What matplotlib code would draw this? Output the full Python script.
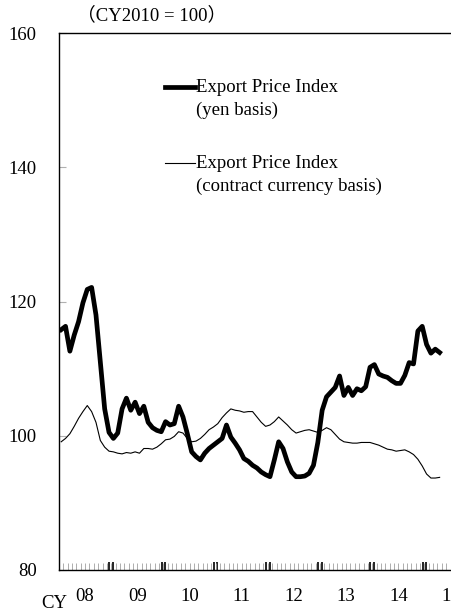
"""
Export price index: yen basis vs contract currency basis, monthly, CY2010=100.
"""

import matplotlib
matplotlib.use("Agg")
import matplotlib.pyplot as plt

plt.rcParams["font.family"] = ["Liberation Serif", "Noto Sans CJK JP"]

years = ["08", "09", "10", "11", "12", "13", "14", "15"]

# monthly values from Jan 2008
yen_basis = [
    115.8, 116.3, 112.6, 115.0, 117.0, 119.8, 121.8, 122.1, 118.0, 111.0, 104.0, 100.5,
    99.6, 100.4, 104.0, 105.6, 103.8, 105.0, 103.3, 104.4, 102.0, 101.2, 100.8, 100.6,
    102.1, 101.6, 101.8, 104.4, 102.8, 100.3, 97.6, 96.9, 96.4, 97.4, 98.1, 98.6,
    99.1, 99.6, 101.6, 99.8, 98.9, 97.9, 96.6, 96.2, 95.6, 95.2, 94.6, 94.2,
    93.9, 96.4, 99.1, 98.1, 96.1, 94.6, 93.9, 93.9, 94.0, 94.4, 95.6, 99.0,
    103.8, 105.8, 106.5, 107.2, 108.9, 106.0, 107.2, 106.0, 107.0, 106.7, 107.3, 110.2,
    110.6, 109.2, 108.9, 108.7, 108.2, 107.8, 107.8, 109.0, 110.9, 110.7, 115.6, 116.3,
    113.6, 112.3, 112.9, 112.4,
]

contract_basis = [
    99.1, 99.6, 100.3, 101.4, 102.6, 103.6, 104.5, 103.6, 102.0, 99.3, 98.3, 97.7,
    97.6, 97.4, 97.3, 97.5, 97.4, 97.6, 97.4, 98.1, 98.1, 98.0, 98.3, 98.8,
    99.4, 99.5, 99.9, 100.6, 100.4, 99.6, 99.1, 99.2, 99.6, 100.2, 100.9, 101.3,
    101.8, 102.7, 103.4, 104.0, 103.8, 103.7, 103.5, 103.6, 103.6, 102.8, 102.0, 101.4,
    101.6, 102.1, 102.8, 102.2, 101.6, 100.9, 100.4, 100.6, 100.8, 100.9, 100.7, 100.5,
    100.8, 101.2, 100.9, 100.2, 99.5, 99.1, 99.0, 98.9, 98.9, 99.0, 99.0, 99.0,
    98.8, 98.6, 98.3, 98.0, 97.9, 97.7, 97.8, 97.9, 97.6, 97.2, 96.5, 95.5,
    94.3, 93.7, 93.7, 93.8,
]

figure = plt.figure(figsize=(4.51, 6.15), dpi=100)
# axes run past the right edge of the figure, as in the original
ax = figure.add_axes([59 / 451, 45 / 615, 417.6 / 451, 537 / 615])

months = range(len(yen_basis))
ax.plot(months, contract_basis, color="black", linewidth=0.8)
ax.plot(months, yen_basis, color="black", linewidth=3.4, solid_joinstyle="round")

ax.set_xlim(-0.5, 12 * len(years) - 0.5)
ax.set_ylim(80, 160)
ax.spines["right"].set_visible(False)
for side in ("left", "bottom", "top"):
    ax.spines[side].set_linewidth(1.0)

ax.set_yticks([80, 100, 120, 140, 160])
ax.tick_params(axis="y", direction="in", length=5, width=0.8, color="#b0b0b0",
               pad=16, labelsize=13.5)

# monthly gray ticks, doubled black ticks at each year boundary
ax.set_xticks([k + 0.5 for k in range(-1, 12 * len(years))], minor=True)
boundaries = [12 * i - 0.5 for i in range(1, len(years))]
ax.set_xticks([b + d for b in boundaries for d in (-0.4, 0.4)])
ax.set_xticklabels([])
ax.tick_params(axis="x", which="minor", direction="in", length=5, width=0.6,
               color="#a0a0a0")
ax.tick_params(axis="x", which="major", direction="in", length=6, width=1.2,
               color="black")

for i, year in enumerate(years):
    ax.text(12 * i + 5.5, -0.05, year, transform=ax.get_xaxis_transform(),
            ha="center", va="center", fontsize=13.5, clip_on=False)
figure.text(54 / 451, 1 - 604 / 615, "CY", ha="center", va="center", fontsize=13.5)
figure.text(77 / 451, 1 - 15 / 615, "（CY2010 = 100）", ha="left", va="center",
            fontsize=13.5)

# legend drawn by hand: sample line beside first text line
def to_axes(px, py):
    return (px - 59) / 417.6, (570 - py) / 537

for top, width, lines in [(87, 3.4, ["Export Price Index", "(yen basis)"]),
                          (163, 0.8, ["Export Price Index",
                                      "(contract currency basis)"])]:
    x0, y0 = to_axes(165, top)
    x1, _ = to_axes(195, top)
    ax.plot([x0, x1], [y0, y0], color="black", linewidth=width,
            transform=ax.transAxes, clip_on=False)
    for row, line in enumerate(lines):
        tx, ty = to_axes(196, top + 23 * row)
        ax.text(tx, ty, line, transform=ax.transAxes, ha="left", va="center",
                fontsize=13.5)

figure.savefig("out.png", dpi=100)
